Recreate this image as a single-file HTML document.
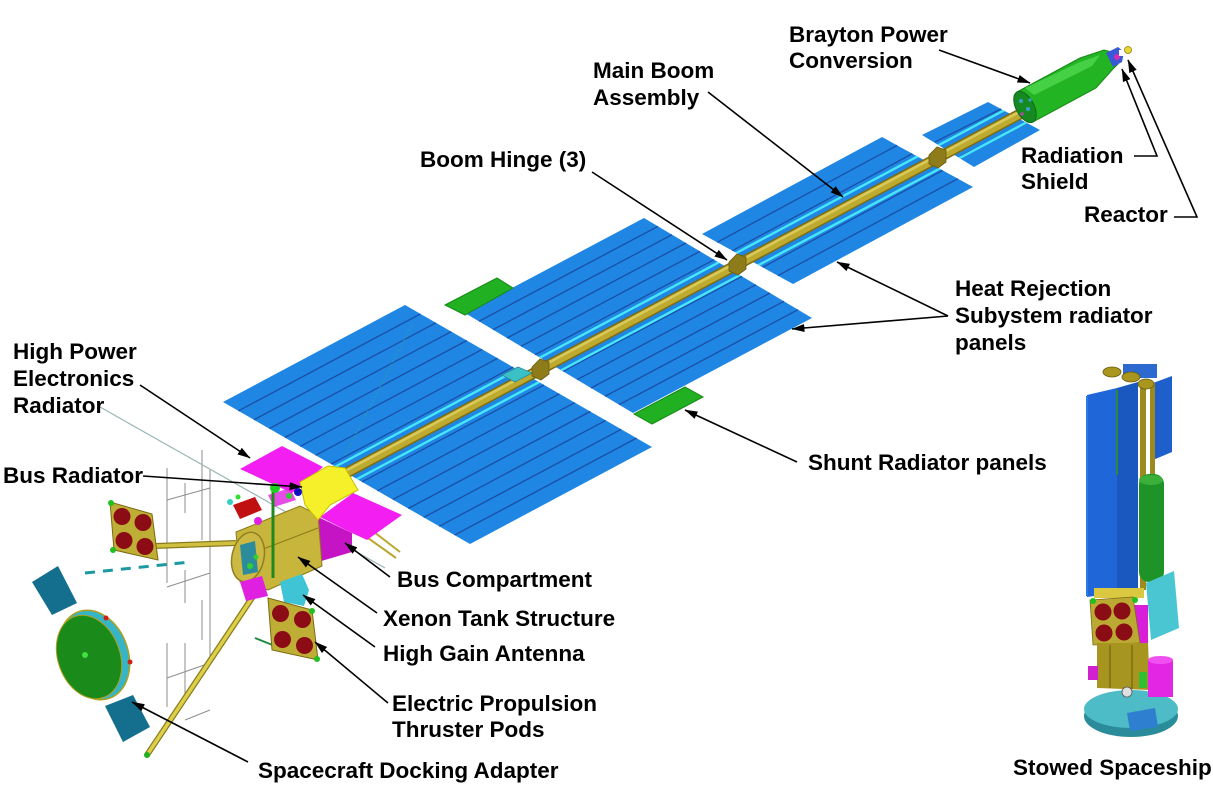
<!DOCTYPE html>
<html><head><meta charset="utf-8"><style>
html,body{margin:0;padding:0;background:#fff;}
svg{display:block;}
text{font-family:"Liberation Sans",Arial,sans-serif;font-weight:bold;font-size:22.5px;fill:#000;}
</style></head><body>
<svg width="1213" height="786" viewBox="0 0 1213 786" xmlns="http://www.w3.org/2000/svg">
<defs>
<marker id="ah" markerWidth="13" markerHeight="9" refX="12.5" refY="4.5" orient="auto" markerUnits="userSpaceOnUse"><path d="M0,0.5 L13,4.5 L0,8.5 Z" fill="#000"/></marker>
<clipPath id="arr">
<polygon points="223,402 405,305 652,447 470,544"/>
<polygon points="465,313 644,218 812,318 633,413"/>
<polygon points="702,234 882,137 973,187 793,284"/>
<polygon points="922,135 988,102 1040,130 974,167"/>
</clipPath>
</defs>
<rect width="1213" height="786" fill="#fff"/>

<!-- thin background lines / wireframe -->
<g stroke="#8e8e8e" stroke-width="1" fill="none">
<line x1="167" y1="468" x2="167" y2="583"/><line x1="167" y1="643" x2="167" y2="707"/>
<line x1="185" y1="483" x2="185" y2="513"/><line x1="185" y1="570" x2="185" y2="603"/><line x1="185" y1="643" x2="185" y2="700"/>
<line x1="202" y1="450" x2="202" y2="540"/><line x1="202" y1="600" x2="202" y2="640"/>
<line x1="210" y1="470" x2="210" y2="657"/>
<line x1="167" y1="587" x2="210" y2="573"/><line x1="167" y1="678" x2="210" y2="663"/>
<line x1="167" y1="500" x2="210" y2="488"/><line x1="185" y1="720" x2="210" y2="710"/>
</g>
<line x1="100" y1="407" x2="385" y2="568" stroke="#9ab6b6" stroke-width="1.2"/>
<line x1="85" y1="573" x2="190" y2="562" stroke="#1a9aa0" stroke-width="3" stroke-dasharray="10,8"/>

<!-- radiator arrays -->
<g fill="#1f86e3">
<polygon points="223,402 405,305 652,447 470,544"/>
<polygon points="465,313 644,218 812,318 633,413"/>
<polygon points="702,234 882,137 973,187 793,284"/>
<polygon points="922,135 988,102 1040,130 974,167"/>
</g>
<g stroke="#1b4ea6" stroke-width="1.3">
<line x1="238.4" y1="410.9" x2="420.4" y2="313.9"/>
<line x1="253.9" y1="419.8" x2="435.9" y2="322.8"/>
<line x1="269.3" y1="428.6" x2="451.3" y2="331.6"/>
<line x1="284.8" y1="437.5" x2="466.8" y2="340.5"/>
<line x1="300.2" y1="446.4" x2="482.2" y2="349.4"/>
<line x1="315.6" y1="455.3" x2="497.6" y2="358.3"/>
<line x1="331.1" y1="464.1" x2="513.1" y2="367.1"/>
<line x1="362" y1="481.9" x2="544" y2="384.9"/>
<line x1="377.4" y1="490.8" x2="559.4" y2="393.8"/>
<line x1="392.8" y1="499.6" x2="574.8" y2="402.6"/>
<line x1="408.3" y1="508.5" x2="590.3" y2="411.5"/>
<line x1="423.7" y1="517.4" x2="605.7" y2="420.4"/>
<line x1="439.2" y1="526.3" x2="621.2" y2="429.3"/>
<line x1="454.6" y1="535.1" x2="636.6" y2="438.1"/>
<line x1="479" y1="321.3" x2="658" y2="226.3"/>
<line x1="493" y1="329.7" x2="672" y2="234.7"/>
<line x1="507" y1="338" x2="686" y2="243"/>
<line x1="521" y1="346.3" x2="700" y2="251.3"/>
<line x1="535" y1="354.7" x2="714" y2="259.7"/>
<line x1="563" y1="371.3" x2="742" y2="276.3"/>
<line x1="577" y1="379.7" x2="756" y2="284.7"/>
<line x1="591" y1="388" x2="770" y2="293"/>
<line x1="605" y1="396.3" x2="784" y2="301.3"/>
<line x1="619" y1="404.7" x2="798" y2="309.7"/>
<line x1="717.2" y1="242.3" x2="897.2" y2="145.3"/>
<line x1="732.3" y1="250.7" x2="912.3" y2="153.7"/>
<line x1="762.7" y1="267.3" x2="942.7" y2="170.3"/>
<line x1="777.8" y1="275.7" x2="957.8" y2="178.7"/>
<line x1="935" y1="142" x2="1001" y2="109"/>
<line x1="961" y1="156" x2="1027" y2="123"/>
</g>
<g clip-path="url(#arr)" stroke="#48e6fa" stroke-width="2.4">
<line x1="330" y1="469.5" x2="1030" y2="96.5"/>
<line x1="330" y1="493.5" x2="1030" y2="120.5"/>
</g>

<!-- shunt radiators -->
<polygon points="445,305 497,278 513,288 465,315" fill="#21b021" stroke="#178a17" stroke-width="1"/>
<polygon points="634,414 685,387 703,397 652,424" fill="#21b021" stroke="#178a17" stroke-width="1"/>

<!-- boom -->
<line x1="335" y1="479" x2="1022" y2="113" stroke="#7c6c12" stroke-width="11"/>
<line x1="335" y1="479" x2="1022" y2="113" stroke="#bdaa2e" stroke-width="8"/>
<line x1="335" y1="476.5" x2="1022" y2="110.5" stroke="#d9c95a" stroke-width="2.5"/>
<polygon points="502,375 518,367 532,373 515,382" fill="#3cc0c8" stroke="#2a8c94" stroke-width="0.8"/>
<g fill="#8e7c1a" stroke="#6a5a0e" stroke-width="0.8">
<polygon points="532,367 540,359 549,362 549,374 541,380 532,376"/>
<polygon points="729,262 737,254 746,257 746,269 738,275 729,271"/>
<polygon points="929,155 937,147 946,150 946,162 938,168 929,164"/>
</g>

<!-- Brayton + reactor -->
<polygon points="1017,92 1080,58 1104,50 1112,52 1118,64 1112,70 1096,88 1033,122" fill="#22b422" stroke="#178a17" stroke-width="1"/>
<polygon points="1025,88 1080,62 1100,55 1092,66 1034,95" fill="#46d046"/>
<ellipse cx="1025" cy="107" rx="9" ry="17" transform="rotate(-28 1025 107)" fill="#168a20" stroke="#0f6a18"/>
<circle cx="1021" cy="101" r="2" fill="#3aa0d0"/><circle cx="1028" cy="109" r="2" fill="#3aa0d0"/><circle cx="1022" cy="114" r="1.6" fill="#c040c0"/><circle cx="1030" cy="100" r="1.6" fill="#3aa0d0"/>
<polygon points="1106,53 1118,47 1124,52 1122,62 1113,67" fill="#3858d8"/>
<circle cx="1117" cy="57" r="3" fill="#d030b0"/><rect x="1119" y="50" width="5" height="6" fill="#fff"/>
<circle cx="1128" cy="50" r="3.5" fill="#e8d830" stroke="#8a7a10" stroke-width="0.8"/>

<!-- bus -->
<line x1="147" y1="755" x2="272" y2="568" stroke="#8a7c1c" stroke-width="6"/>
<line x1="147" y1="755" x2="272" y2="568" stroke="#dccf4a" stroke-width="3.5"/>
<circle cx="147" cy="755" r="3" fill="#20b020"/>
<line x1="155" y1="546" x2="236" y2="543" stroke="#8a7c1c" stroke-width="6"/>
<line x1="155" y1="546" x2="236" y2="543" stroke="#d0c040" stroke-width="3.5"/>
<line x1="368" y1="538" x2="396" y2="558" stroke="#b8a830" stroke-width="2"/>
<line x1="374" y1="532" x2="400" y2="552" stroke="#b8a830" stroke-width="2"/>
<polygon points="240,469 282,446 323,467 292,493" fill="#f21ef2"/>
<polygon points="316,516 352,533 352,552 318,562" fill="#c414c4"/>
<polygon points="320,517 353,493 402,515 367,540 352,533" fill="#f21ef2"/>
<polygon points="236,532 300,506 318,515 322,566 268,590 240,582" fill="#c8b63c" stroke="#8a7a1a" stroke-width="1"/>
<line x1="245" y1="556" x2="318" y2="528" stroke="#8a7a1a" stroke-width="1"/>
<polygon points="300,482 328,466 345,468 358,490 330,505 318,520 305,505" fill="#f5f02a" stroke="#c8c000" stroke-width="1"/>
<polygon points="233,505 255,497 262,510 240,519" fill="#c01010"/>
<circle cx="230" cy="502" r="3" fill="#30d0c0"/><circle cx="238" cy="497" r="2.5" fill="#30e030"/>
<circle cx="258" cy="521" r="4" fill="#e020e0"/>
<polygon points="268,495 290,488 296,500 274,507" fill="#e020e0" opacity="0.8"/>
<line x1="273" y1="490" x2="273" y2="578" stroke="#1e8a1e" stroke-width="3"/>
<circle cx="275" cy="488" r="5" fill="#20d020"/>
<circle cx="298" cy="492" r="4" fill="#1010c0"/><circle cx="289" cy="496" r="3" fill="#30d030"/>
<ellipse cx="248" cy="557" rx="16" ry="25" transform="rotate(12 248 557)" fill="#cbb944" stroke="#8f7f20" stroke-width="1.5"/>
<polygon points="240,545 255,541 258,572 243,575" fill="#2c8c9c"/>
<circle cx="250" cy="566" r="3" fill="#30d030"/><circle cx="256" cy="557" r="2.5" fill="#30d030"/>
<polygon points="240,582 262,576 268,596 246,601" fill="#e020e0"/>
<polygon points="280,582 302,574 309,590 304,606 284,602" fill="#3ec4d4"/>
<line x1="255" y1="638" x2="275" y2="646" stroke="#1e8a3e" stroke-width="2"/>
<!-- pods -->
<polygon points="110,502 152,514 158,560 114,550" fill="#bfae35" stroke="#7a6a10" stroke-width="1"/>
<g fill="#8b0c14"><circle cx="122" cy="516.5" r="8.5"/><circle cx="143" cy="522.5" r="8.5"/><circle cx="124" cy="540.5" r="8.5"/><circle cx="145" cy="546.5" r="8.5"/></g>
<circle cx="111" cy="503" r="3" fill="#20c020"/><circle cx="113" cy="550" r="3" fill="#20c020"/>
<polygon points="268,598 312,610 318,660 272,650" fill="#bfae35" stroke="#7a6a10" stroke-width="1"/>
<g fill="#8b0c14"><circle cx="280.5" cy="613.5" r="8.5"/><circle cx="302.5" cy="619.5" r="8.5"/><circle cx="282.5" cy="639.5" r="8.5"/><circle cx="304.5" cy="645.5" r="8.5"/></g>
<circle cx="312" cy="611" r="3" fill="#20c020"/><circle cx="317" cy="659" r="3" fill="#20c020"/>
<line x1="345" y1="455" x2="413" y2="323" stroke="#2aa0a0" stroke-width="1" stroke-dasharray="2,2"/>

<!-- docking adapter -->
<polygon points="32,582 58,566 77,603 52,615" fill="#146e8e"/>
<polygon points="105,706 133,695 150,727 123,742" fill="#146e8e"/>
<ellipse cx="94" cy="655" rx="34" ry="46" transform="rotate(-20 94 655)" fill="#35b5c5" stroke="#b0a020" stroke-width="1.5"/>
<ellipse cx="89" cy="657" rx="31" ry="43" transform="rotate(-20 89 657)" fill="#1a8a1a" stroke="#b0a020" stroke-width="1"/>
<circle cx="85" cy="655" r="3" fill="#40e040"/>
<circle cx="106" cy="618" r="2.5" fill="#d02010"/><circle cx="130" cy="662" r="2.5" fill="#d02010"/>

<!-- stowed spaceship -->
<polygon points="1153,383 1172,376 1172,452 1153,460" fill="#1f5fcc"/>
<rect x="1123" y="364" width="34" height="14" fill="#2c6ad0"/>
<rect x="1140" y="385" width="6" height="205" fill="#9c8a1e"/>
<rect x="1150" y="383" width="5" height="95" fill="#9c8a1e"/>
<polygon points="1087,395 1117,388 1117,593 1087,597" fill="#1f66d8"/>
<polygon points="1117,388 1138,382 1138,588 1117,593" fill="#1a58c0"/>
<line x1="1087" y1="396" x2="1087" y2="596" stroke="#2a7ae8" stroke-width="2"/>
<line x1="1117" y1="390" x2="1117" y2="475" stroke="#2a8a3a" stroke-width="2"/>
<ellipse cx="1112" cy="372" rx="9" ry="5" fill="#a8961e" stroke="#6a5a0e" stroke-width="0.8"/>
<ellipse cx="1131" cy="377" rx="9" ry="5" fill="#a8961e" stroke="#6a5a0e" stroke-width="0.8"/>
<ellipse cx="1146" cy="384" rx="8" ry="5" fill="#a8961e" stroke="#6a5a0e" stroke-width="0.8"/>
<rect x="1139" y="474" width="25" height="108" rx="10" fill="#1e9428"/>
<ellipse cx="1151" cy="480" rx="12" ry="5" fill="#3ab03a"/>
<polygon points="1146,583 1174,571 1179,628 1151,640" fill="#4ac6d2"/>
<rect x="1094" y="588" width="50" height="10" fill="#d9c840"/>
<rect x="1132" y="605" width="16" height="47" fill="#d81ed8"/>
<polygon points="1090,600 1133,597 1140,643 1093,645" fill="#bca934" stroke="#7a6a10" stroke-width="0.8"/>
<g fill="#8a0c14"><circle cx="1103" cy="612" r="8.5"/><circle cx="1122" cy="611" r="8.5"/><circle cx="1104" cy="633" r="8.5"/><circle cx="1124" cy="632" r="8.5"/></g>
<circle cx="1093" cy="601" r="3" fill="#20c020"/><circle cx="1135" cy="600" r="3" fill="#20c020"/>
<polygon points="1097,643 1148,643 1150,690 1097,688" fill="#a7951f"/>
<line x1="1110" y1="645" x2="1110" y2="688" stroke="#6a5a0e" stroke-width="1"/>
<line x1="1132" y1="645" x2="1132" y2="689" stroke="#6a5a0e" stroke-width="1"/>
<rect x="1088" y="666" width="10" height="14" fill="#d020d0"/>
<ellipse cx="1131" cy="716" rx="47" ry="21" fill="#2a8c9a"/>
<ellipse cx="1131" cy="709" rx="47" ry="19" fill="#4dbcc6"/>
<rect x="1148" y="660" width="25" height="37" fill="#e326e3"/>
<ellipse cx="1160.5" cy="660" rx="12.5" ry="4" fill="#f050f0"/>
<polygon points="1127,713 1155,708 1158,727 1130,731" fill="#2f7fd0"/>
<circle cx="1127" cy="692" r="5" fill="#e0e0e0" stroke="#555" stroke-width="0.8"/>
<rect x="1139" y="672" width="8" height="16" fill="#30c030"/>

<!-- arrows -->
<g stroke="#000" stroke-width="1.6" fill="none">
<line x1="939" y1="50" x2="1030" y2="83" marker-end="url(#ah)"/>
<line x1="708" y1="92" x2="843" y2="197" marker-end="url(#ah)"/>
<line x1="592" y1="172" x2="727" y2="260" marker-end="url(#ah)"/>
<polyline points="1134,156 1157,156 1122,69" marker-end="url(#ah)"/>
<polyline points="1174,217 1197,217 1128,60" marker-end="url(#ah)"/>
<line x1="948" y1="316" x2="837" y2="262" marker-end="url(#ah)"/>
<line x1="948" y1="316" x2="792" y2="329" marker-end="url(#ah)"/>
<line x1="797" y1="462" x2="685" y2="410" marker-end="url(#ah)"/>
<line x1="140" y1="385" x2="250" y2="458" marker-end="url(#ah)"/>
<line x1="143" y1="476" x2="302" y2="487" marker-end="url(#ah)"/>
<line x1="390" y1="577" x2="345" y2="543" marker-end="url(#ah)"/>
<line x1="377" y1="613" x2="298" y2="557" marker-end="url(#ah)"/>
<line x1="375" y1="647" x2="303" y2="595" marker-end="url(#ah)"/>
<line x1="388" y1="703" x2="315" y2="642" marker-end="url(#ah)"/>
<line x1="248" y1="762" x2="132" y2="702" marker-end="url(#ah)"/>
</g>

<!-- labels -->
<text x="789" y="42">Brayton Power</text>
<text x="789" y="68">Conversion</text>
<text x="593" y="78">Main Boom</text>
<text x="593" y="105">Assembly</text>
<text x="420" y="167">Boom Hinge (3)</text>
<text x="1021" y="163">Radiation</text>
<text x="1021" y="189">Shield</text>
<text x="1084" y="222">Reactor</text>
<text x="955" y="296">Heat Rejection</text>
<text x="955" y="323">Subystem radiator</text>
<text x="955" y="350">panels</text>
<text x="13" y="359">High Power</text>
<text x="13" y="386">Electronics</text>
<text x="13" y="413">Radiator</text>
<text x="3" y="483">Bus Radiator</text>
<text x="808" y="470">Shunt Radiator panels</text>
<text x="397" y="587">Bus Compartment</text>
<text x="383" y="626">Xenon Tank Structure</text>
<text x="383" y="661">High Gain Antenna</text>
<text x="392" y="711">Electric Propulsion</text>
<text x="392" y="737">Thruster Pods</text>
<text x="258" y="778">Spacecraft Docking Adapter</text>
<text x="1013" y="775">Stowed Spaceship</text>
</svg>
</body></html>
